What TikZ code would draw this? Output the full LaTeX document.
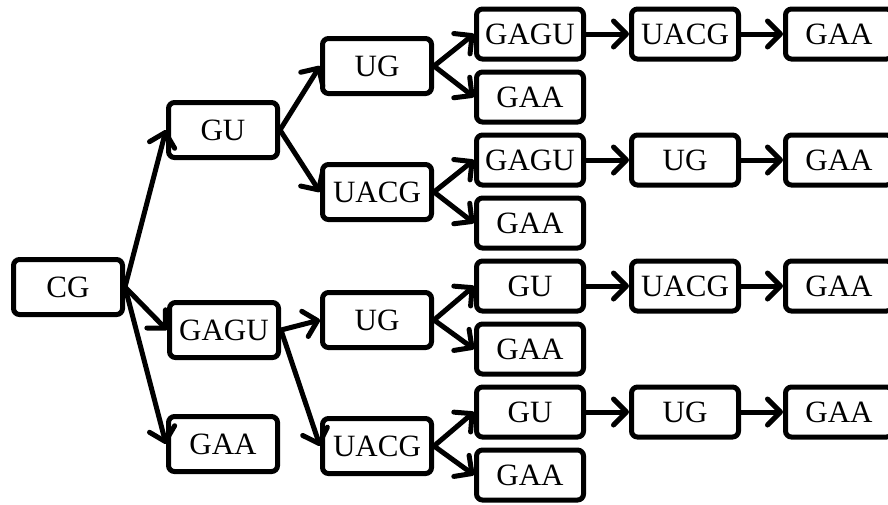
\documentclass[tikz,border=0pt]{standalone}
\usepackage{fontspec}
\setmainfont{Liberation Serif}
\usetikzlibrary{arrows.meta}

\begin{document}
\begin{tikzpicture}[x=1pt,y=-1pt]
\tikzset{seq/.style={draw,line width=5pt,rounded corners=6pt,minimum width=109pt,minimum height=55pt,inner sep=0pt,font=\fontsize{31}{31}\selectfont},
leaf/.style={seq,minimum width=107pt,minimum height=50pt},
link/.style={line width=5pt,-{Straight Barb[length=13pt,width=26pt,line width=5pt,round]}}}
\useasboundingbox (0,0) rectangle (888,504);
% root and first level
\node [seq] (cg) at (68,287) {CG};
\node [seq] (gu) at (223,130) {GU};
\node [seq] (gagu) at (224,330) {GAGU};
\node [seq] (gaa) at (223,444) {GAA};
% second level
\node [seq] (guug) at (377,66) {UG};
\node [seq] (guuacg) at (377,192) {UACG};
\node [seq] (gaguug) at (377,320) {UG};
\node [seq] (gaguuacg) at (377,446) {UACG};
% third level
\node [leaf] (ra) at (530,34) {GAGU};
\node [leaf] (rb) at (530,97) {GAA};
\node [leaf] (rc) at (530,160) {GAGU};
\node [leaf] (rd) at (530,223) {GAA};
\node [leaf] (re) at (530,286) {GU};
\node [leaf] (rf) at (530,349) {GAA};
\node [leaf] (rg) at (530,412) {GU};
\node [leaf] (rh) at (530,475) {GAA};
% fourth and fifth level
\node [leaf] (sa) at (685,34) {UACG};
\node [leaf] (sc) at (685,160) {UG};
\node [leaf] (se) at (685,286) {UACG};
\node [leaf] (sg) at (685,412) {UG};
\node [leaf] (ta) at (839,34) {GAA};
\node [leaf] (tc) at (839,160) {GAA};
\node [leaf] (te) at (839,286) {GAA};
\node [leaf] (tg) at (839,412) {GAA};
% arrows
\draw [link] (cg.east) -- (gu.west);
\draw [link] (cg.east) -- (gagu.west);
\draw [link] (cg.east) -- (gaa.west);
\draw [link] (gu.east) -- (guug.west);
\draw [link] (gu.east) -- (guuacg.west);
\draw [link] (gagu.east) -- (gaguug.west);
\draw [link] (gagu.east) -- (gaguuacg.west);
\draw [link] (guug.east) -- (ra.west);
\draw [link] (guug.east) -- (rb.west);
\draw [link] (guuacg.east) -- (rc.west);
\draw [link] (guuacg.east) -- (rd.west);
\draw [link] (gaguug.east) -- (re.west);
\draw [link] (gaguug.east) -- (rf.west);
\draw [link] (gaguuacg.east) -- (rg.west);
\draw [link] (gaguuacg.east) -- (rh.west);
\foreach \p/\q/\r in {ra/sa/ta,rc/sc/tc,re/se/te,rg/sg/tg}{
  \draw [link] (\p.east) -- (\q.west);
  \draw [link] (\q.east) -- (\r.west);
}
\end{tikzpicture}
\end{document}
